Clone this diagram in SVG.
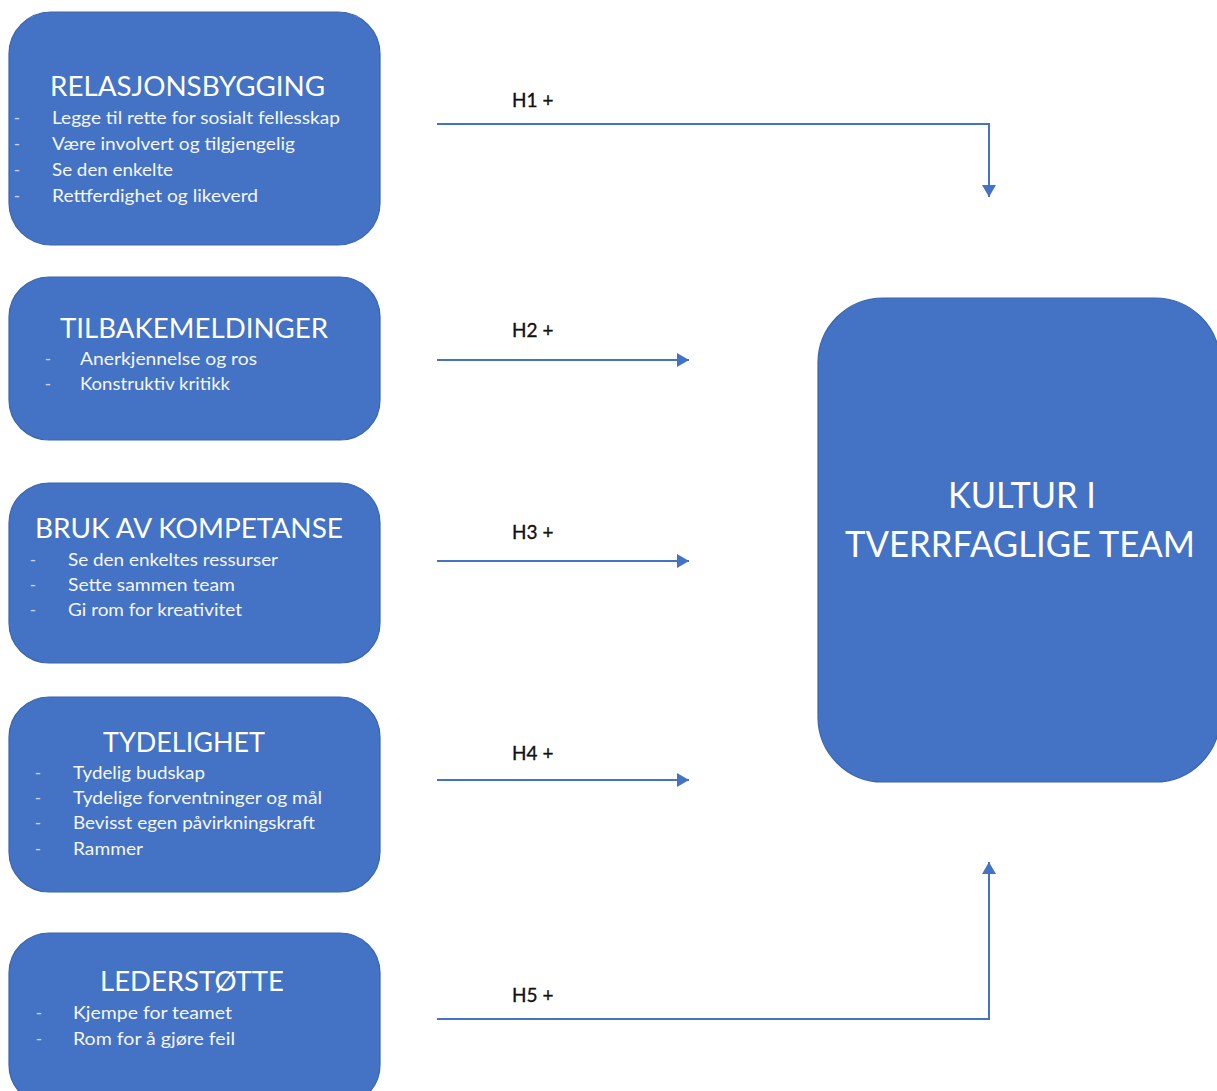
<svg xmlns="http://www.w3.org/2000/svg" width="1217" height="1091" viewBox="0 0 1217 1091">
  <style>
    .box { fill: #4472C4; stroke: #3A64AE; stroke-width: 1.2; }
    .title { font-family: Lato, "Liberation Sans", sans-serif; font-size: 27px; fill: #FFFFFF; }
    .item { font-family: Lato, "Liberation Sans", sans-serif; font-size: 17px; fill: #F4F7FC; }
    .dash { font-family: Lato, "Liberation Sans", sans-serif; font-size: 17px; fill: #C9D6EE; text-anchor: middle; }
    .big { font-family: Lato, "Liberation Sans", sans-serif; font-size: 37px; fill: #FFFFFF; text-anchor: middle; }
    .lbl { font-family: Lato, "Liberation Sans", sans-serif; font-size: 19px; fill: #111111; stroke: #111111; stroke-width: 0.35; }
    .conn { fill: none; stroke: #4472C4; stroke-width: 2; }
  </style>
  <defs>
    <marker id="arrow" markerUnits="userSpaceOnUse" markerWidth="14" markerHeight="14" viewBox="0 0 12 14" refX="12" refY="7" orient="auto">
      <path d="M0,0 L12,7 L0,14 Z" fill="#4472C4"/>
    </marker>
  </defs>
  <rect width="1217" height="1091" fill="#FFFFFF"/>

  <g id="node-relasjonsbygging">
    <rect class="box" x="9" y="12" width="371" height="233" rx="42" ry="42"/>
    <text class="title" x="50" y="96" textLength="275" lengthAdjust="spacingAndGlyphs">RELASJONSBYGGING</text>
    <text class="dash" x="17" y="124">-</text>
    <text class="item" x="52" y="124" textLength="288" lengthAdjust="spacingAndGlyphs">Legge til rette for sosialt fellesskap</text>
    <text class="dash" x="17" y="150">-</text>
    <text class="item" x="52" y="150" textLength="243" lengthAdjust="spacingAndGlyphs">Være involvert og tilgjengelig</text>
    <text class="dash" x="17" y="176">-</text>
    <text class="item" x="52" y="176" textLength="121" lengthAdjust="spacingAndGlyphs">Se den enkelte</text>
    <text class="dash" x="17" y="202">-</text>
    <text class="item" x="52" y="202" textLength="206" lengthAdjust="spacingAndGlyphs">Rettferdighet og likeverd</text>
  </g>

  <g id="node-tilbakemeldinger">
    <rect class="box" x="9" y="277" width="371" height="163" rx="40" ry="40"/>
    <text class="title" x="60" y="338" textLength="268" lengthAdjust="spacingAndGlyphs">TILBAKEMELDINGER</text>
    <text class="dash" x="48" y="365">-</text>
    <text class="item" x="80" y="365" textLength="177" lengthAdjust="spacingAndGlyphs">Anerkjennelse og ros</text>
    <text class="dash" x="48" y="390">-</text>
    <text class="item" x="80" y="390" textLength="150" lengthAdjust="spacingAndGlyphs">Konstruktiv kritikk</text>
  </g>

  <g id="node-bruk-av-kompetanse">
    <rect class="box" x="9" y="483" width="371" height="180" rx="40" ry="40"/>
    <text class="title" x="35" y="538" textLength="308" lengthAdjust="spacingAndGlyphs">BRUK AV KOMPETANSE</text>
    <text class="dash" x="33" y="566">-</text>
    <text class="item" x="68" y="566" textLength="210" lengthAdjust="spacingAndGlyphs">Se den enkeltes ressurser</text>
    <text class="dash" x="33" y="591">-</text>
    <text class="item" x="68" y="591" textLength="167" lengthAdjust="spacingAndGlyphs">Sette sammen team</text>
    <text class="dash" x="33" y="616">-</text>
    <text class="item" x="68" y="616" textLength="174" lengthAdjust="spacingAndGlyphs">Gi rom for kreativitet</text>
  </g>

  <g id="node-tydelighet">
    <rect class="box" x="9" y="697" width="371" height="195" rx="40" ry="40"/>
    <text class="title" x="103" y="752" textLength="162" lengthAdjust="spacingAndGlyphs">TYDELIGHET</text>
    <text class="dash" x="38" y="779">-</text>
    <text class="item" x="73" y="779" textLength="132" lengthAdjust="spacingAndGlyphs">Tydelig budskap</text>
    <text class="dash" x="38" y="804">-</text>
    <text class="item" x="73" y="804" textLength="249" lengthAdjust="spacingAndGlyphs">Tydelige forventninger og mål</text>
    <text class="dash" x="38" y="829">-</text>
    <text class="item" x="73" y="829" textLength="242" lengthAdjust="spacingAndGlyphs">Bevisst egen påvirkningskraft</text>
    <text class="dash" x="38" y="855">-</text>
    <text class="item" x="73" y="855" textLength="70" lengthAdjust="spacingAndGlyphs">Rammer</text>
  </g>

  <g id="node-lederstotte">
    <rect class="box" x="9" y="933" width="371" height="172" rx="40" ry="40"/>
    <text class="title" x="100" y="991" textLength="184" lengthAdjust="spacingAndGlyphs">LEDERSTØTTE</text>
    <text class="dash" x="39" y="1019">-</text>
    <text class="item" x="73" y="1019" textLength="159" lengthAdjust="spacingAndGlyphs">Kjempe for teamet</text>
    <text class="dash" x="39" y="1045">-</text>
    <text class="item" x="73" y="1045" textLength="162" lengthAdjust="spacingAndGlyphs">Rom for å gjøre feil</text>
  </g>

  <g id="node-kultur">
    <rect class="box" x="818" y="298" width="402" height="484" rx="65" ry="65"/>
    <text class="big" x="1022" y="508" textLength="148" lengthAdjust="spacingAndGlyphs">KULTUR I</text>
    <text class="big" x="1020" y="557" textLength="350" lengthAdjust="spacingAndGlyphs">TVERRFAGLIGE TEAM</text>
  </g>

  <g id="connectors">
    <path class="conn" d="M437,124 H989 V197" marker-end="url(#arrow)"/>
    <path class="conn" d="M437,360 H689" marker-end="url(#arrow)"/>
    <path class="conn" d="M437,561 H689" marker-end="url(#arrow)"/>
    <path class="conn" d="M437,780 H689" marker-end="url(#arrow)"/>
    <path class="conn" d="M437,1019 H989 V862" marker-end="url(#arrow)"/>
    <text class="lbl" x="512" y="107">H1 +</text>
    <text class="lbl" x="512" y="337">H2 +</text>
    <text class="lbl" x="512" y="539">H3 +</text>
    <text class="lbl" x="512" y="760">H4 +</text>
    <text class="lbl" x="512" y="1002">H5 +</text>
  </g>
</svg>
